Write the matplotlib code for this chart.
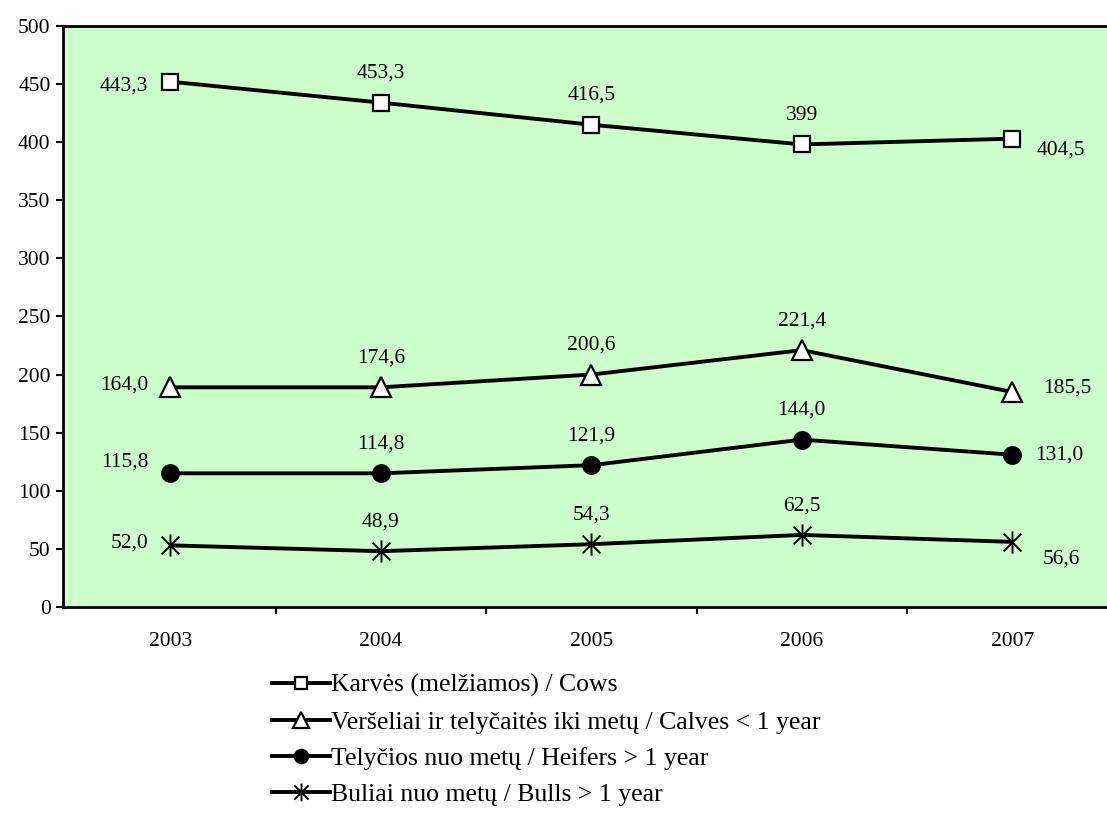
#!/usr/bin/env python3

import matplotlib
matplotlib.use("Agg")
import matplotlib.pyplot as plt
from matplotlib.path import Path

years = ["2003", "2004", "2005", "2006", "2007"]

cows = [452, 434, 415, 398, 403]
calves = [189, 189, 200, 221, 185]
heifers = [115, 115, 122, 144, 131]
bulls = [53, 48, 54, 62, 56]

cows_labels = ["443,3", "453,3", "416,5", "399", "404,5"]
calves_labels = ["164,0", "174,6", "200,6", "221,4", "185,5"]
heifers_labels = ["115,8", "114,8", "121,9", "144,0", "131,0"]
bulls_labels = ["52,0", "48,9", "54,3", "62,5", "56,6"]

names = ["Karvės (melžiamos) / Cows",
         "Veršeliai ir telyčaitės iki metų / Calves < 1 year",
         "Telyčios nuo metų / Heifers > 1 year",
         "Buliai nuo metų / Bulls > 1 year"]

plt.rcParams["font.family"] = ["Liberation Serif", "DejaVu Serif"]

# X with a vertical bar, like the Excel asterisk marker
star = Path([(0, -1), (0, 1), (-0.8, -0.8), (0.8, 0.8), (-0.8, 0.8), (0.8, -0.8)],
            [Path.MOVETO, Path.LINETO, Path.MOVETO, Path.LINETO, Path.MOVETO, Path.LINETO])

fig = plt.figure(figsize=(11.07, 8.23), dpi=100)
ax = fig.add_axes([0.057, 0.2625, 0.943, 0.706])
ax.set_facecolor("#CCFFCC")

x = list(range(len(years)))
styles = [
    dict(marker="s", markerfacecolor="white", markersize=11, markeredgewidth=1.6),
    dict(marker="^", markerfacecolor="white", markersize=14, markeredgewidth=1.6),
    dict(marker="o", markerfacecolor="black", markersize=12, markeredgewidth=1.6),
    dict(marker=star, markerfacecolor="black", markersize=16, markeredgewidth=1.4),
]
series = [cows, calves, heifers, bulls]
labels = [cows_labels, calves_labels, heifers_labels, bulls_labels]
# nudges (points) for the first and last labels
left_dy = [-3, 2, 8, 2]
right_dy = [-8, 3, 0, -12]
right_dx = [24, 31, 23, 30]

handles = []
for vals, labs, st, name, ldy, rdy, rdx in zip(series, labels, styles, names,
                                                left_dy, right_dy, right_dx):
    h, = ax.plot(x, vals, label=name, color="black", linewidth=2.8,
                 markeredgecolor="black", zorder=3, **st)
    handles.append(h)
    for i, (v, t) in enumerate(zip(vals, labs)):
        if i == 0:
            ax.annotate(t, (i, v), xytext=(-16, ldy), textcoords="offset points",
                        ha="right", va="center", fontsize=15.5)
        elif i == len(vals) - 1:
            ax.annotate(t, (i, v), xytext=(rdx * 0.72, rdy), textcoords="offset points",
                        ha="left", va="center", fontsize=15.5)
        else:
            ax.annotate(t, (i, v), xytext=(0, 21), textcoords="offset points",
                        ha="center", va="center", fontsize=15.5)

ax.set_xlim(-0.51, 4.45)
ax.set_ylim(0, 500)
ax.set_yticks(range(0, 501, 50))
ax.set_xticks([i + 0.5 for i in range(0, 4)])
ax.set_xticklabels([])
ax.set_xticks(x, minor=True)
ax.set_xticklabels(years, minor=True)
ax.tick_params(axis="x", which="minor", length=0, pad=18, labelsize=15.5)
ax.tick_params(axis="x", which="major", length=5, width=1.5, direction="out")
ax.tick_params(axis="y", length=5, width=1.5, direction="out", labelsize=15.5, pad=4)

ax.spines["right"].set_visible(False)
ax.spines["left"].set_linewidth(2)
ax.spines["bottom"].set_linewidth(2)
ax.spines["top"].set_linewidth(2)

fig.legend(handles=handles, loc="upper left", bbox_to_anchor=(0.2457, 0.181),
           frameon=False, fontsize=18.5, handlelength=2.25, handletextpad=0.05,
           labelspacing=0.52, borderpad=0, borderaxespad=0, markerscale=0.8)

fig.savefig("out.png", dpi=100)
